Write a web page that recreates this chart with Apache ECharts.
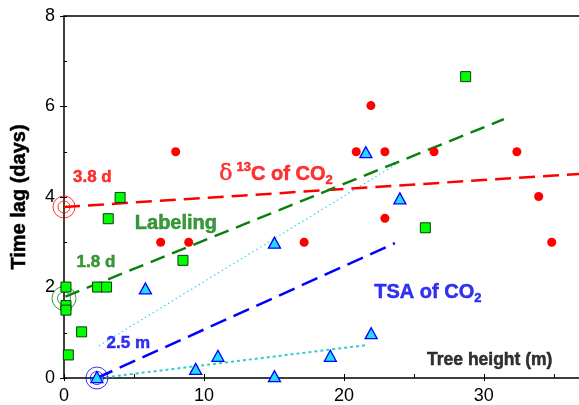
<!DOCTYPE html>
<html><head><meta charset="utf-8">
<script src="https://cdn.jsdelivr.net/npm/echarts@6/dist/echarts.min.js"></script>
<style>html,body{margin:0;padding:0;background:#fff}#c{width:579px;height:405px}</style>
</head><body><div id="c"></div>
<script>
// δ13C of CO2 (red circles)
const d13cX = [7.98, 6.91, 8.91, 17.16, 20.88, 21.93, 22.93, 22.93, 26.44, 32.36, 33.92, 34.85];
const d13cY = [5.0, 3.0, 3.0, 3.0, 5.0, 6.02, 5.0, 3.53, 5.0, 5.0, 4.01, 3.0];
// Labeling (green squares)
const labX = [0.14, 0.14, 0.14, 1.26, 0.31, 2.4, 3.04, 8.5, 3.16, 4.01, 28.7, 25.82];
const labY = [2.01, 1.6, 1.5, 1.02, 0.51, 2.01, 2.01, 2.6, 3.52, 3.99, 6.66, 3.32];
// TSA of CO2 (cyan triangles)
const tsaX = [2.35, 5.82, 9.41, 11.0, 15.04, 15.04, 19.03, 21.95, 21.57, 24.0];
const tsaY = [0.02, 1.98, 0.2, 0.49, 2.99, 0.04, 0.49, 0.99, 4.99, 3.97];
// regression lines [x0, y0, x1, y1]
const lineD13C = [0, 3.78, 36.8, 4.51];
const lineLab = [0.1, 1.8, 31.43, 5.72];
const lineTSA = [2.35, 0, 23.64, 2.98];
const lineTSAup = [2.49, 0.71, 23.71, 4.72];
const lineTSAlow = [2.57, 0, 21.69, 0.73];
// intercept markers
const ringD13C = [0, 3.78];
const ringLab = [0, 1.76];
const ringTSA = [2.35, 0];
// tick labels
const xTicks = [0, 10, 20, 30];
const yTicks = [0, 2, 4, 6, 8];

const zip = (a, b) => a.map((v, i) => [v, b[i]]);
const seg = l => [[l[0], l[1]], [l[2], l[3]]];
const FONT = '"Liberation Sans", Arial, Helvetica, sans-serif';

const chart = echarts.init(document.getElementById('c'), null, {renderer: 'canvas'});

function lineSeries(l, color, width, type) {
  return {type: 'line', data: seg(l), symbol: 'none', silent: true, z: 2,
    lineStyle: {color: color, width: width, type: type}, xAxisIndex: 0, yAxisIndex: 0};
}
function ring(pt, color, size, z) {
  return {type: 'scatter', data: [pt], symbol: 'circle', symbolSize: size, z: z, silent: true,
    itemStyle: {color: 'rgba(0,0,0,0)', borderColor: color, borderWidth: 1}};
}
function txt(color, size, extra) {
  return Object.assign({fontSize: size, fontWeight: 'bold', fontFamily: FONT, color: color,
    textBorderColor: color, textBorderWidth: 0.5}, extra || {});
}
function note(x, y, text, color, size, rich) {
  return {type: 'scatter', data: [[x, y]], symbolSize: 0, z: 10, silent: true,
    itemStyle: {color: 'rgba(0,0,0,0)'},
    label: Object.assign({show: true, position: 'right', distance: 0, formatter: text, rich: rich},
      txt(color, size))};
}

const xMin = 0, xMax = 36.8, yMin = 0, yMax = 8;
const axisLine = {lineStyle: {color: '#000', width: 1.5}};
const tickStyle = {color: '#000', width: 1};

const option = {
  animation: false,
  grid: {left: 64, top: 16, right: 0, bottom: 26, containLabel: false},
  xAxis: [
    {type: 'value', min: xMin, max: xMax, interval: 10, position: 'bottom',
      axisLine: axisLine, splitLine: {show: false},
      axisTick: {show: true, inside: false, length: 3, lineStyle: tickStyle},
      axisLabel: {show: true, margin: 9, fontSize: 18, color: '#000', fontFamily: FONT,
        showMaxLabel: false, formatter: v => xTicks.includes(v) ? String(v) : ''}},
    {type: 'value', min: xMin, max: xMax, interval: 5, position: 'bottom',
      axisLine: {show: false}, splitLine: {show: false},
      axisTick: {show: true, inside: true, length: 4, lineStyle: tickStyle},
      axisLabel: {show: false}},
    {type: 'value', min: xMin, max: xMax, position: 'top',
      axisLine: axisLine, axisTick: {show: false}, axisLabel: {show: false}, splitLine: {show: false}}
  ],
  yAxis: [
    {type: 'value', min: yMin, max: yMax, interval: 2, position: 'left',
      axisLine: axisLine, splitLine: {show: false},
      axisTick: {show: true, inside: false, length: 4, lineStyle: tickStyle},
      axisLabel: {show: true, margin: 9, fontSize: 18, color: '#000', fontFamily: FONT,
        formatter: v => yTicks.includes(v) ? String(v) : ''},
      name: 'Time lag (days)', nameLocation: 'middle', nameGap: 35, nameRotate: 90,
      nameTextStyle: txt('#000', 20)},
    {type: 'value', min: yMin, max: yMax, interval: 1, position: 'left',
      axisLine: {show: false}, splitLine: {show: false},
      axisTick: {show: true, inside: true, length: 3, lineStyle: tickStyle},
      axisLabel: {show: false}}
  ],
  series: [
    lineSeries(lineTSAup, '#33ccff', 1.2, [1.5, 3]),
    lineSeries(lineTSAlow, '#33cccc', 2, [3, 3]),
    lineSeries(lineD13C, '#ff0000', 2.5, [16, 8]),
    lineSeries(lineLab, '#0a800a', 2.5, [15, 8]),
    lineSeries(lineTSA, '#0000ff', 2.5, [17, 8]),
    ring(ringD13C, '#ff0000', 22, 3), ring(ringD13C, '#ff0000', 12, 3),
    ring(ringLab, '#0a800a', 24, 3), ring(ringLab, '#0a800a', 13, 3),
    ring(ringTSA, '#0000ff', 22, 3), ring(ringTSA, '#0000ff', 13, 3),
    {type: 'scatter', name: 'δ13C', data: zip(d13cX, d13cY), symbol: 'circle', symbolSize: 9, z: 5,
      itemStyle: {color: '#ff0000', opacity: 1}},
    {type: 'scatter', name: 'Labeling', data: zip(labX, labY), symbol: 'rect', symbolSize: 10, z: 5,
      itemStyle: {color: '#00ff00', borderColor: '#0a3a0a', borderWidth: 1, opacity: 1}},
    {type: 'scatter', name: 'TSA', data: zip(tsaX, tsaY), symbol: 'triangle', symbolSize: [12, 11], z: 5,
      itemStyle: {color: '#22ddff', borderColor: '#0000ff', borderWidth: 1.3, opacity: 1}},
    note(0.64, 4.43, '3.8 d', '#ff0000', 17),
    note(11.1, 4.5, '{d|δ}{sup|13}{b|C of CO}{sub|2}', '#ff0000', 20, {
      d: {fontSize: 22, fontWeight: 'normal', fontFamily: '"DejaVu Serif", serif', color: '#ff0000', lineHeight: 26, padding: [0, 4, 0, 0]},
      sup: txt('#ff0000', 13, {verticalAlign: 'top', lineHeight: 14}),
      b: txt('#ff0000', 20, {lineHeight: 26}),
      sub: txt('#ff0000', 13, {verticalAlign: 'bottom', lineHeight: 18})
    }),
    note(5.06, 3.42, 'Labeling', '#0a800a', 20),
    note(0.9, 2.56, '1.8 d', '#0a800a', 17),
    note(3.04, 0.77, '2.5 m', '#0000ee', 17),
    note(22.17, 1.9, '{b|TSA of CO}{sub|2}', '#0000ee', 20, {
      b: txt('#0000ee', 20, {lineHeight: 26}),
      sub: txt('#0000ee', 13, {verticalAlign: 'bottom', lineHeight: 18})
    }),
    note(25.94, 0.4, 'Tree height (m)', '#000', 17.5)
  ]
};
chart.setOption(option);
</script></body></html>
